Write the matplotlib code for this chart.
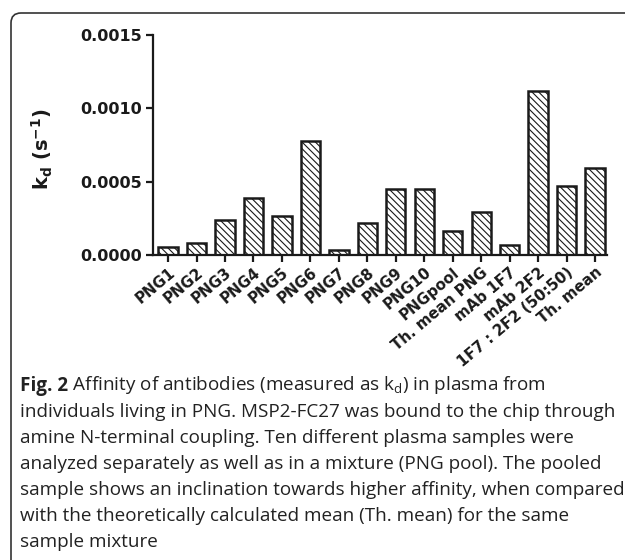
import numpy as np
import matplotlib
matplotlib.use('Agg')
import matplotlib.pyplot as plt
from matplotlib.patches import FancyBboxPatch
from matplotlib.transforms import IdentityTransform

### Data ###
samples = ['PNG1', 'PNG2', 'PNG3', 'PNG4', 'PNG5', 'PNG6', 'PNG7', 'PNG8',
           'PNG9', 'PNG10', 'PNGpool', 'Th. mean PNG', 'mAb 1F7', 'mAb 2F2',
           '1F7 : 2F2 (50:50)', 'Th. mean']
kd = [0.000052, 0.000079, 0.000237, 0.000386, 0.000264, 0.00078, 0.000036,
      0.000221, 0.000447, 0.000447, 0.000165, 0.000295, 0.00007, 0.00112,
      0.000471, 0.000595]
yticks = [0.0, 0.0005, 0.0010, 0.0015]

caption_first = ' Affinity of antibodies (measured as k$_d$) in plasma from'
caption = ['individuals living in PNG. MSP2-FC27 was bound to the chip through',
           'amine N-terminal coupling. Ten different plasma samples were',
           'analyzed separately as well as in a mixture (PNG pool). The pooled',
           'sample shows an inclination towards higher affinity, when compared',
           'with the theoretically calculated mean (Th. mean) for the same',
           'sample mixture']

plt.rcParams['mathtext.default'] = 'regular'
plt.rcParams['hatch.linewidth'] = 0.8

W, H = 625, 560
fig = plt.figure(figsize=(W / 100, H / 100), dpi=100)
ax = fig.add_axes([153 / W, 1 - 255 / H, 454 / W, 220 / H])

x = np.arange(len(samples))
ax.bar(x, kd, width=0.68, color='white', edgecolor='#1a1a1a', linewidth=1.8,
       hatch='\\\\\\\\\\')

ax.set_xlim(-0.53, len(samples) - 0.58)
ax.set_ylim(0, 0.0015)
ax.set_yticks(yticks)
ax.set_yticklabels(['%.4f' % v for v in yticks])
ax.set_xticks(x)
ax.set_xticklabels(samples, rotation=40, ha='right', rotation_mode='anchor')
for s in ['top', 'right']:
    ax.spines[s].set_visible(False)
for s in ['left', 'bottom']:
    ax.spines[s].set_linewidth(1.6)
    ax.spines[s].set_color('#1a1a1a')
ax.tick_params(direction='out', length=5, width=1.6, color='#1a1a1a')
ax.tick_params(axis='y', labelsize=11.5, pad=3)
ax.tick_params(axis='x', labelsize=10.8, pad=2)
for lab in ax.get_xticklabels() + ax.get_yticklabels():
    lab.set_fontweight('bold')
    lab.set_color('#1a1a1a')

ax.set_ylabel('k$_d$ (s$^{-1}$)', fontsize=14, fontweight='bold', color='#1a1a1a')
ax.yaxis.set_label_coords(-0.215, 0.48)

# frame round the figure panel
box = FancyBboxPatch((11, -30), 660, 577, boxstyle='round,pad=0,rounding_size=10',
                     transform=IdentityTransform(), facecolor='none',
                     edgecolor='#333333', linewidth=1.2)
fig.add_artist(box)

# caption
cap_font = 'Open Sans'
cap_size = 13.6
t1 = fig.text(20 / W, 1 - 386 / H, 'Fig. 2', fontsize=cap_size, fontweight='bold',
              family=cap_font, va='center', color='#222222')
ax.annotate(caption_first, xy=(1, 0), xycoords=t1, va='bottom', ha='left',
            fontsize=cap_size, family=cap_font, color='#222222',
            annotation_clip=False)
for i, line in enumerate(caption):
    fig.text(20 / W, 1 - (412 + i * 26) / H, line, fontsize=cap_size,
             family=cap_font, va='center', color='#222222')

fig.savefig('out.png', dpi=100)
